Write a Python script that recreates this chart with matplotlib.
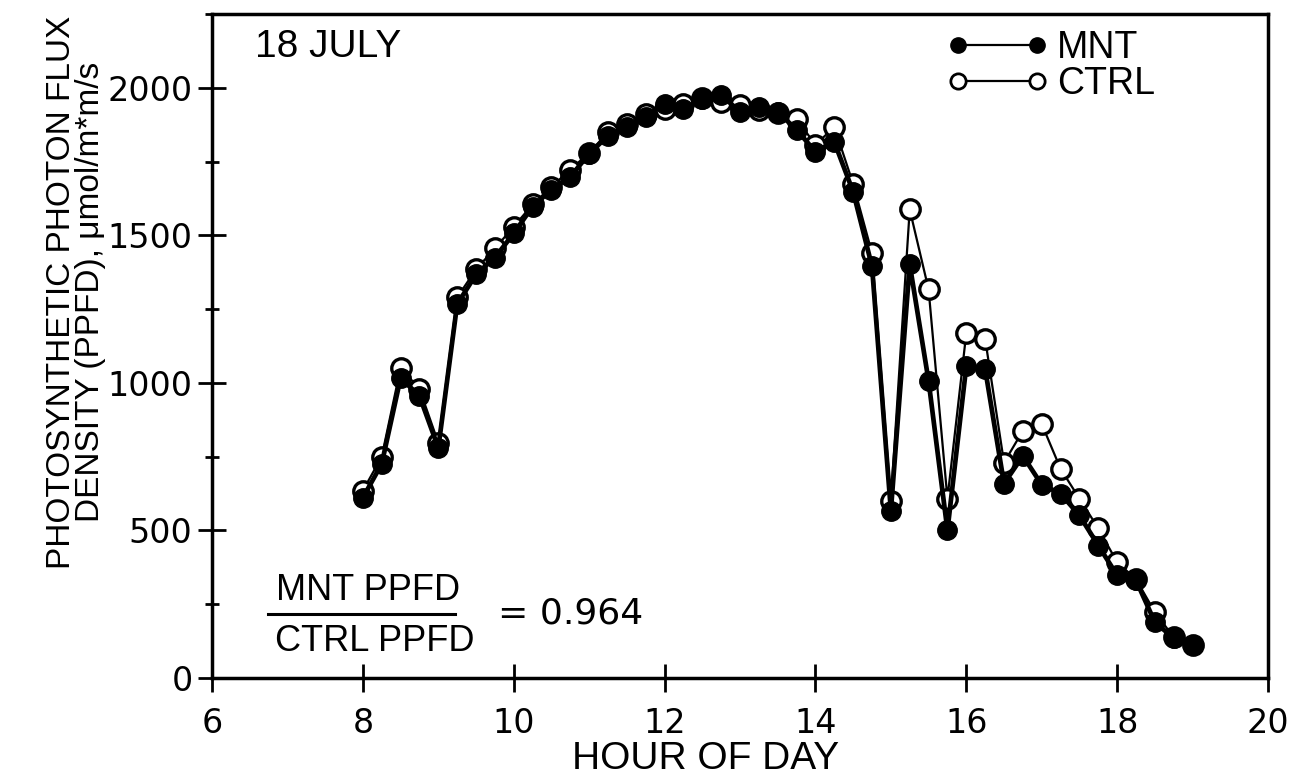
import matplotlib.pyplot as plt
from matplotlib.lines import Line2D
from matplotlib.ticker import MultipleLocator

plt.rcParams['font.family'] = ['Liberation Sans', 'DejaVu Sans']

# hour of day, one reading every 15 minutes
hours = [8.0, 8.25, 8.5, 8.75, 9.0, 9.25, 9.5, 9.75, 10.0, 10.25, 10.5, 10.75,
         11.0, 11.25, 11.5, 11.75, 12.0, 12.25, 12.5, 12.75, 13.0, 13.25, 13.5, 13.75,
         14.0, 14.25, 14.5, 14.75, 15.0, 15.25, 15.5, 15.75, 16.0, 16.25, 16.5, 16.75,
         17.0, 17.25, 17.5, 17.75, 18.0, 18.25, 18.5, 18.75, 19.0]

mnt = [611, 726, 1017, 956, 780, 1267, 1368, 1425, 1507, 1598, 1655, 1699,
       1777, 1838, 1868, 1902, 1946, 1929, 1963, 1976, 1919, 1936, 1919, 1858,
       1784, 1817, 1648, 1395, 567, 1402, 1007, 500, 1057, 1047, 659, 753,
       655, 625, 551, 449, 348, 331, 189, 135, 111]

ctrl = [635, 750, 1051, 980, 797, 1290, 1385, 1456, 1530, 1605, 1665, 1723,
        1780, 1850, 1878, 1912, 1929, 1946, 1965, 1953, 1942, 1926, 1915, 1895,
        1807, 1868, 1675, 1440, 601, 1588, 1317, 608, 1169, 1149, 730, 838,
        861, 709, 608, 507, 392, 335, 223, 138, 112]

ratio_text = '= 0.964'

fig = plt.figure(figsize=(12.96, 7.8), dpi=100)
ax = fig.add_axes([0.1636, 0.1308, 0.8148, 0.851])

# open circles first, filled ones sit on top
ax.plot(hours, ctrl, color='black', lw=1.6, marker='o', ms=14,
        mfc='white', mec='black', mew=2.4, zorder=2)
ax.plot(hours, mnt, color='black', lw=3.4, marker='o', ms=14,
        mfc='black', mec='black', zorder=3)

ax.set_xlim(6, 20)
ax.set_ylim(0, 2250)
ax.xaxis.set_major_locator(MultipleLocator(2))
ax.yaxis.set_major_locator(MultipleLocator(500))
ax.yaxis.set_minor_locator(MultipleLocator(250))
ax.tick_params(axis='both', which='major', direction='inout', length=20, width=2,
               labelsize=24, pad=4)
ax.tick_params(axis='x', which='major', pad=11)
ax.tick_params(axis='y', which='minor', direction='inout', length=10, width=2)
for lbl in ax.get_xticklabels() + ax.get_yticklabels():
    lbl.set_family('DejaVu Sans')
for s in ax.spines.values():
    s.set_linewidth(2.5)

ax.set_xlabel('HOUR OF DAY', fontsize=28, va='top')
ax.xaxis.set_label_coords(0.467, -0.095)
ax.set_ylabel('PHOTOSYNTHETIC PHOTON FLUX\nDENSITY (PPFD), μmol/m*m/s',
              fontsize=24, linespacing=0.95)
ax.yaxis.set_label_coords(-0.1, 0.581)

ax.text(0.041, 0.978, '18 JULY', transform=ax.transAxes, fontsize=28,
        ha='left', va='top')

# legend: marker - line - marker, like the original key
handles = [
    Line2D([], [], color='black', lw=1.6, marker='o', ms=11, mfc='black', mec='black'),
    Line2D([], [], color='black', lw=1.6, marker='o', ms=11, mfc='white', mec='black', mew=2),
]
ax.legend(handles, ['MNT', 'CTRL'], loc='upper right', bbox_to_anchor=(0.918, 1.015),
          numpoints=2, handlelength=2.7, handletextpad=0.25, frameon=False,
          fontsize=27, labelspacing=0.0, borderaxespad=0.3)

# ratio as a stacked fraction
ax.text(0.148, 0.106, 'MNT PPFD', transform=ax.transAxes, fontsize=26,
        ha='center', va='bottom')
ax.text(0.154, 0.081, 'CTRL PPFD', transform=ax.transAxes, fontsize=26,
        ha='center', va='top')
ax.add_line(Line2D([0.053, 0.230], [0.097, 0.097], transform=ax.transAxes,
                   color='black', lw=2.2))
ax.text(0.271, 0.097, ratio_text, transform=ax.transAxes, fontsize=26,
        ha='left', va='center', family='DejaVu Sans')

fig.savefig('out.png', dpi=100)
